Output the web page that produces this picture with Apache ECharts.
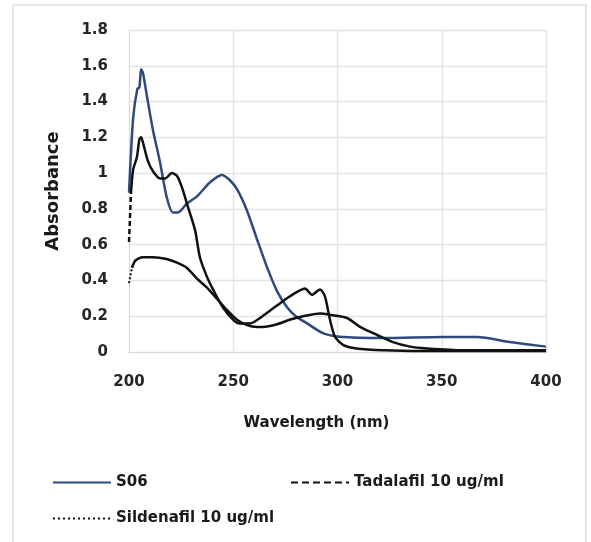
<!DOCTYPE html>
<html><head><meta charset="utf-8">
<script src="https://cdn.jsdelivr.net/npm/echarts@6/dist/echarts.min.js"></script>
<style>html,body{margin:0;padding:0;background:#fff}#c{width:591px;height:542px}</style>
</head><body><div id="c"></div>
<script>
const xTicks = [200, 250, 300, 350, 400];
const yTicks = [0, 0.2, 0.4, 0.6, 0.8, 1, 1.2, 1.4, 1.6, 1.8];

const s06Wl  = [200,202,204,205,205.8,206.7,208.6,211.5,214.9,218,221,223.5,227.8,232.6,239,244.6,248.4,251.8,256.6,261.4,266,271,275.8,280,285.4,293,301,321.8,350.6,367,382.7,400];
const s06Abs = [0.89,1.31,1.47,1.48,1.58,1.56,1.43,1.24,1.06,0.87,0.78,0.78,0.83,0.87,0.95,0.99,0.96,0.91,0.79,0.63,0.48,0.34,0.25,0.2,0.16,0.105,0.085,0.078,0.084,0.084,0.056,0.03];

const tadWl  = [200,201,202,203.8,205,205.8,206.7,209,211.5,214.9,217.3,220.6,223,225.4,228.3,231.7,234,237.4,240.3,245,250,253,258,264,271,277,284.4,287.8,291.6,294,296.4,298.8,302.6,309,322,350,400];
const tadAbs = [0.615,0.9,1.02,1.09,1.19,1.2,1.17,1.07,1.01,0.97,0.97,1.0,0.985,0.92,0.81,0.68,0.53,0.42,0.35,0.25,0.18,0.16,0.16,0.2,0.26,0.31,0.355,0.32,0.35,0.31,0.18,0.085,0.04,0.02,0.01,0.005,0.005];

const silWl  = [200,201.4,203,206.7,211.5,218,223,227.8,232.6,237.4,242,247,251.8,256.6,261.4,264.3,271,277,283.5,291.6,297.8,304.6,310.8,319,326.6,334.8,343,360,400];
const silAbs = [0.385,0.47,0.51,0.53,0.53,0.52,0.5,0.47,0.41,0.36,0.3,0.235,0.18,0.15,0.14,0.14,0.155,0.18,0.2,0.215,0.205,0.19,0.14,0.095,0.055,0.03,0.02,0.01,0.01];

const names = ['S06', 'Tadalafil 10 ug/ml', 'Sildenafil 10 ug/ml'];
const zip = (a, b) => a.map((v, i) => [v, b[i]]);

const FONT = 'DejaVu Sans, Liberation Sans, sans-serif';
const chart = echarts.init(document.getElementById('c'), null, {renderer: 'canvas'});
const legendText = {fontFamily: FONT, fontWeight: 'bold', fontSize: 15, color: '#1a1a1a'};
const legendBase = {orient: 'horizontal', itemWidth: 58, itemHeight: 14, itemGap: 5, textStyle: legendText,
  selectedMode: false, padding: 0, itemStyle: {opacity: 0}};
chart.setOption({
  animation: false,
  backgroundColor: '#fff',
  graphic: [{type: 'rect', shape: {x: 13, y: 5, width: 573, height: 560},
    style: {fill: 'none', stroke: '#e6e6e6', lineWidth: 2}, silent: true}],
  grid: {left: 129, right: 45, top: 30, bottom: 190},
  legend: [
    Object.assign({id: 'l1', data: [{name: names[0], itemStyle: {opacity: 0}}], left: 52, top: 475}, legendBase),
    Object.assign({id: 'l2', data: [{name: names[1], itemStyle: {opacity: 0}, lineStyle: {type: [7, 4], color: '#111'}}], left: 290, top: 475}, legendBase),
    Object.assign({id: 'l3', data: [{name: names[2], itemStyle: {opacity: 0}, lineStyle: {type: [2, 3], color: '#111', width: 2}}], left: 52, top: 511}, legendBase)
  ],
  xAxis: {
    type: 'value', min: xTicks[0], max: xTicks[xTicks.length - 1], interval: 50,
    name: 'Wavelength (nm)', nameLocation: 'middle', nameGap: 64,
    nameTextStyle: {fontFamily: FONT, fontWeight: 'bold', fontSize: 15, color: '#1a1a1a', padding: [0, 42, 0, 0]},
    axisLine: {show: true, lineStyle: {color: '#d9d9d9', width: 1}},
    axisTick: {show: false},
    axisLabel: {fontFamily: FONT, fontWeight: 'bold', fontSize: 15, color: '#262626', margin: 23},
    splitLine: {show: true, lineStyle: {color: '#e3e3e3', width: 1.3}}
  },
  yAxis: {
    type: 'value', min: yTicks[0], max: yTicks[yTicks.length - 1], interval: 0.2,
    name: 'Absorbance', nameLocation: 'middle', nameGap: 67, nameRotate: 90,
    nameTextStyle: {fontFamily: FONT, fontWeight: 'bold', fontSize: 18, color: '#1a1a1a'},
    axisLine: {show: true, lineStyle: {color: '#d9d9d9', width: 1}},
    axisTick: {show: false},
    axisLabel: {fontFamily: FONT, fontWeight: 'bold', fontSize: 15, color: '#262626', margin: 21},
    splitLine: {show: true, lineStyle: {color: '#e3e3e3', width: 1.3}}
  },
  series: [
    {name: names[0], type: 'line', data: zip(s06Wl, s06Abs), smooth: 0.25, symbol: 'none',
     lineStyle: {color: '#2E4A7D', width: 2.5}, itemStyle: {color: '#2E4A7D'}},
    {name: names[1], type: 'line', data: zip(tadWl, tadAbs).slice(1), smooth: 0.25, symbol: 'none',
     lineStyle: {color: '#111', width: 2.5}, itemStyle: {color: '#111'}},
    {name: names[1] + ' start', type: 'line', data: zip(tadWl, tadAbs).slice(0, 2), symbol: 'none',
     lineStyle: {color: '#111', width: 2.5, type: [5, 3]}, itemStyle: {color: '#111'}},
    {name: names[2], type: 'line', data: zip(silWl, silAbs).slice(1), smooth: 0.25, symbol: 'none',
     lineStyle: {color: '#111', width: 2.5}, itemStyle: {color: '#111'}},
    {name: names[2] + ' start', type: 'line', data: zip(silWl, silAbs).slice(0, 2), symbol: 'none',
     lineStyle: {color: '#111', width: 2, type: [2, 2]}, itemStyle: {color: '#111'}}
  ]
});
</script></body></html>
